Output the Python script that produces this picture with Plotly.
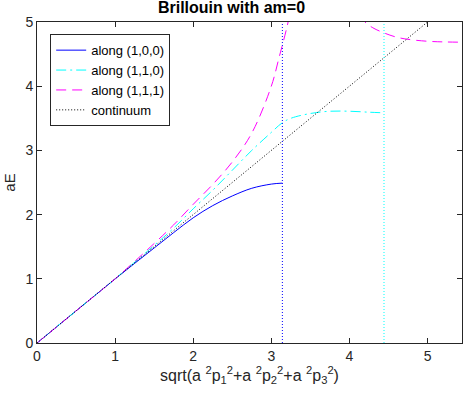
import plotly.graph_objects as go

# values
p100 = [0, 0.5, 1.0, 1.25, 1.5, 1.75, 2.0, 2.25, 2.5, 2.75, 3.0, 3.1416]
e100 = [0, 0.5, 0.997, 1.24, 1.48, 1.72, 1.95, 2.14, 2.29, 2.41, 2.475, 2.49]

p110 = [0, 0.5, 1.0, 1.5, 1.75, 2.0, 2.25, 2.5, 2.75, 3.0, 3.14, 3.25, 3.5, 3.75, 4.0, 4.25, 4.4429]
e110 = [0, 0.5, 1.0, 1.52, 1.79, 2.09, 2.38, 2.69, 3.0, 3.28, 3.43, 3.50, 3.575, 3.61, 3.61, 3.595, 3.585]

p111a = [0, 0.5, 1.0, 1.5, 1.75, 2.0, 2.25, 2.5, 2.75, 3.0, 3.1, 3.2, 3.25]
e111a = [0, 0.5, 1.0, 1.55, 1.84, 2.16, 2.47, 2.82, 3.27, 4.0, 4.45, 4.92, 5.2]
p111b = [4.15, 4.2, 4.3, 4.4429, 4.6, 4.75, 5.0, 5.2, 5.4414]
e111b = [5.12, 5.0, 4.91, 4.83, 4.765, 4.73, 4.70, 4.69, 4.685]

cont = [0, 5]
edges = [3.1416, 4.4429]
edge_colors = ["blue", "cyan"]

fig = go.Figure()
fig.add_trace(go.Scatter(x=p100, y=e100, mode="lines", name="along (1,0,0)",
                         line=dict(color="blue", width=1, shape="spline")))
fig.add_trace(go.Scatter(x=p110, y=e110, mode="lines", name="along (1,1,0)",
                         line=dict(color="cyan", width=1, dash="10px,4px,2px,4px", shape="spline")))
fig.add_trace(go.Scatter(x=p111a, y=e111a, mode="lines", name="along (1,1,1)", legendgroup="m",
                         line=dict(color="magenta", width=1, dash="10px,6px", shape="spline")))
fig.add_trace(go.Scatter(x=p111b, y=e111b, mode="lines", legendgroup="m", showlegend=False,
                         line=dict(color="magenta", width=1, dash="10px,6px", shape="spline")))
fig.add_trace(go.Scatter(x=cont, y=cont, mode="lines", name="continuum",
                         line=dict(color="black", width=1, dash="1px,2px")))
for xe, c in zip(edges, edge_colors):
    fig.add_trace(go.Scatter(x=[xe, xe], y=[0, 5], mode="lines", showlegend=False,
                             line=dict(color=c, width=1, dash="1px,2px")))

axis = dict(showline=True, mirror="ticks", linecolor="#262626", linewidth=1, ticks="inside",
            ticklen=5, tickcolor="#262626", showgrid=False, zeroline=False,
            tickfont=dict(size=14, color="#262626"))
fig.update_layout(
    width=463, height=399,
    margin=dict(l=37, r=1, t=22, b=56),
    plot_bgcolor="white", paper_bgcolor="white",
    font=dict(family="Liberation Sans, Arial, sans-serif", color="#262626"),
    title=dict(text="<b>Brillouin with am=0</b>", x=0.5, xanchor="center", y=0.995, yanchor="top",
               font=dict(size=16, color="black")),
    xaxis=dict(axis, range=[0, 5.4414], dtick=1,
               title=dict(text="sqrt(a <sup>2</sup>p<sub>1</sub><sup>2</sup>+a <sup>2</sup>p<sub>2</sub><sup>2</sup>+a <sup>2</sup>p<sub>3</sub><sup>2</sup>)",
                          font=dict(size=16), standoff=4)),
    yaxis=dict(axis, range=[0, 5], dtick=1, title=dict(text="aE", font=dict(size=15), standoff=6)),
    legend=dict(x=0.031, y=0.962, xanchor="left", yanchor="top", bgcolor="white",
                bordercolor="#262626", borderwidth=1, font=dict(size=13, color="black"),
                tracegroupgap=0, itemwidth=30),
    showlegend=True,
)
fig.write_html("out.html", config={"displayModeBar": False},
               post_script="document.body.style.margin='0';")
